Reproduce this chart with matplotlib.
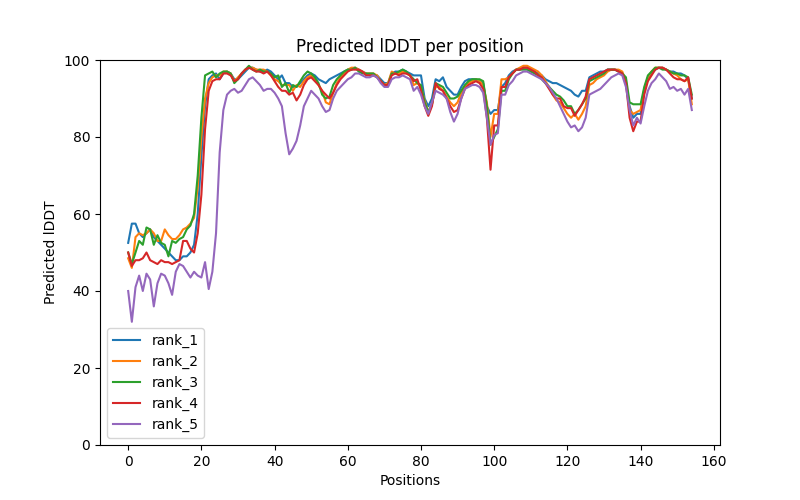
import matplotlib
matplotlib.use("Agg")
import matplotlib.pyplot as plt
import numpy as np

rank_1 = [52.5, 57.5, 57.5, 55, 54, 55, 56, 54, 53, 52, 51, 50, 49, 48, 48, 49, 49, 50, 52, 60,
          75, 88, 95, 96, 96.5, 95, 96.5, 97, 96.5, 95, 95, 96, 97, 98, 98, 97.5, 97, 97, 97.5, 97,
          96, 95, 96, 94, 94, 93, 93, 94, 95, 96, 96.5, 96, 95, 94.5, 94, 95, 95.5, 96, 96.5, 97,
          97.5, 97.5, 98, 97.5, 97, 96.5, 96, 96, 96, 95, 94, 94, 96.5, 97, 97, 97.5, 97, 96.5, 96, 96,
          96, 90, 88, 90, 95, 94.5, 95.5, 93, 92, 91, 91, 93, 94.5, 95, 95, 95, 94.5, 94, 88, 86,
          87, 87, 93, 94, 96, 97, 97.5, 97.5, 98, 98, 97.5, 97, 96.5, 96, 95, 94.5, 94, 94, 93.5, 93,
          92.5, 92, 91, 90.5, 92, 92, 95.5, 96, 96.5, 97, 97, 97.5, 97.5, 97.5, 97, 96.5, 94, 88, 85, 86,
          86, 92, 95, 96.5, 97.5, 98, 98, 97.5, 97, 97, 96.5, 96.5, 96, 95, 90]
rank_2 = [48.5, 46, 54, 55, 54.5, 55, 56, 55, 53, 53, 56, 54.5, 53.5, 53.5, 54.5, 56, 56.5, 57.5, 59, 67,
          80, 90, 94, 95.5, 96, 96, 97, 97, 96.5, 94.5, 95.5, 96.5, 97.5, 98, 98, 97.5, 97.5, 97.5, 97, 96,
          95, 94.5, 93.5, 93.5, 93.5, 92, 93.5, 93, 94.5, 95.5, 96, 95, 93.5, 92, 89, 88.5, 91.5, 94, 95.5, 96.5,
          97.5, 98, 98, 97.5, 97, 96.5, 96.5, 96.5, 96, 94.5, 93.5, 94, 97, 96.5, 96.5, 97, 96.5, 96, 93.5, 94,
          93, 89.5, 86.5, 88.5, 93, 93, 92, 90.5, 89, 88, 89, 91.5, 93, 94, 94.5, 95, 94.5, 93.5, 89, 80,
          86, 86, 95, 95, 95.5, 96.5, 97.5, 98, 98.5, 98.5, 98, 97.5, 97, 96, 94.5, 93, 91, 89.5, 89, 87.5,
          86, 85, 86, 84.5, 86, 88, 93.5, 94, 95, 95.5, 96, 97, 97.5, 97.5, 97.5, 97, 94.5, 87, 86, 86.5,
          87, 92.5, 95.5, 97, 98, 98, 98, 97.5, 97, 96.5, 96, 95, 94.5, 95, 88.5]
rank_3 = [50, 47, 50, 53, 52, 56.5, 56, 52, 54.5, 52.5, 52, 49, 53, 52.5, 53.5, 54, 56, 57, 60, 70,
          85, 96, 96.5, 97, 95.5, 96.5, 97, 97, 96.5, 94, 95, 96.5, 97.5, 98.5, 97.5, 97, 97.5, 97, 97, 96.5,
          95.5, 96, 93, 94, 91.5, 93.5, 93, 94.5, 96, 97, 96.5, 95.5, 94, 91, 90, 90.5, 93.5, 95, 96, 97,
          97.5, 97.5, 98, 97, 96.5, 96.5, 96.5, 96.5, 95.5, 94.5, 93.5, 93.5, 96.5, 96.5, 97, 97.5, 97, 96, 95, 94,
          93.5, 89, 86.5, 88.5, 94, 93.5, 93, 91.5, 90, 90, 90.5, 92, 93.5, 94.5, 95, 95, 95, 94.5, 88, 78,
          80, 82, 92, 92, 95, 96.5, 97.5, 97.5, 97.5, 97.5, 97, 96.5, 96, 95, 94, 93, 92, 91, 90.5, 89.5,
          88, 88, 86, 87, 88.5, 90, 94.5, 95, 95.5, 96, 96.5, 97.5, 97.5, 97.5, 97, 96.5, 95.5, 89, 88.5, 88.5,
          88.5, 93, 96, 97, 98, 98, 97.5, 97.5, 97, 96.5, 96.5, 96, 96, 95.5, 91]
rank_4 = [50, 46.5, 48, 48, 48.5, 50, 48, 47.5, 47, 48, 47.5, 47.5, 47, 47.5, 48, 53, 53, 51, 50, 55,
          65, 82, 92, 94.5, 95, 95, 96.5, 96.5, 96, 94.5, 95, 96.5, 97.5, 98, 97.5, 97, 97, 96.5, 97, 96,
          94.5, 93, 92, 92, 91, 91.5, 89.5, 91, 93.5, 95, 95.5, 94.5, 93.5, 92, 91, 90, 91.5, 93.5, 95, 96,
          97, 97.5, 97.5, 97.5, 97, 96, 96, 96, 95.5, 94.5, 93.5, 93.5, 96, 96.5, 96, 96.5, 96.5, 96, 94.5, 95,
          92, 88, 85.5, 88, 94, 92.5, 92, 90, 88, 86.5, 87, 90, 92.5, 93.5, 94, 94.5, 94, 92.5, 85, 71.5,
          83, 83, 93, 93, 95.5, 96.5, 97.5, 97.5, 98, 98, 97.5, 97, 96, 95.5, 94, 92.5, 91, 90, 90, 88,
          87.5, 87.5, 85.5, 87, 88.5, 90.5, 95, 95.5, 96, 96.5, 97, 97.5, 97.5, 97.5, 97, 96.5, 94, 85, 81.5, 84,
          84, 91, 94.5, 96, 97.5, 98, 98, 97.5, 96.5, 95.5, 95, 95, 94.5, 95.5, 90]
rank_5 = [40, 32, 41, 44, 40, 44.5, 43, 36, 42, 44.5, 44, 42, 39, 45, 47, 46.5, 45, 43.5, 45, 44,
          43.5, 47.5, 40.5, 45, 55, 76, 87, 91, 92, 92.5, 91.5, 92, 93.5, 95, 95.5, 94.5, 93.5, 92, 92.5, 92.5,
          91.5, 90, 88, 81, 75.5, 77, 79, 83, 88, 90, 92, 91, 90, 88, 86.5, 87, 90, 92, 93, 94,
          95, 95.5, 96.5, 96.5, 96, 95.5, 95.5, 96, 95.5, 94, 93, 93, 95, 95.5, 95.5, 96, 95.5, 95, 92, 93,
          91, 88, 86, 89, 92, 91.5, 91, 90, 86.5, 84, 86, 90, 92.5, 93, 93.5, 93.5, 93, 91.5, 85, 78,
          80.5, 81, 91, 91, 93.5, 94.5, 96, 96.5, 97, 97, 96.5, 96, 95.5, 95, 94, 93, 91.5, 90, 88, 86,
          84, 82.5, 83, 81.5, 82.5, 85, 91, 91.5, 92, 92.5, 93.5, 94.5, 95.5, 96, 96.5, 96, 93, 87, 83, 85,
          83.5, 88, 92, 94, 95, 96.5, 95.5, 94.5, 92.5, 93, 92, 92.5, 91, 92.5, 87]

series = {"rank_1": rank_1, "rank_2": rank_2, "rank_3": rank_3, "rank_4": rank_4, "rank_5": rank_5}

fig, ax = plt.subplots(figsize=(8, 5), dpi=100)
for name, vals in series.items():
    ax.plot(np.arange(len(vals)), vals, label=name)
ax.set_ylim(0, 100)
ax.set_title("Predicted lDDT per position")
ax.set_xlabel("Positions")
ax.set_ylabel("Predicted lDDT")
ax.legend(loc="lower left")
fig.savefig("out.png")
